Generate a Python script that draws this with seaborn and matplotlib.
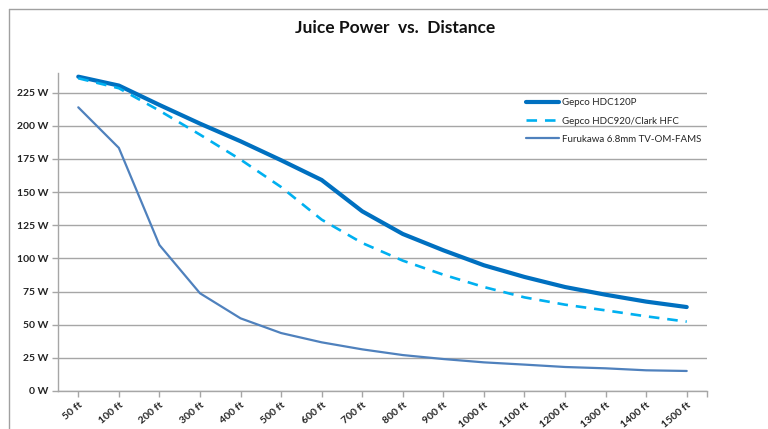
import matplotlib
matplotlib.use("Agg")
import matplotlib.pyplot as plt
import numpy as np
import pandas as pd
import seaborn as sns
from matplotlib.lines import Line2D

distances = ["50 ft", "100 ft", "200 ft", "300 ft", "400 ft", "500 ft", "600 ft", "700 ft",
             "800 ft", "900 ft", "1000 ft", "1100 ft", "1200 ft", "1300 ft", "1400 ft", "1500 ft"]
gepco_120p = [237.0, 230.3, 215.7, 201.6, 188.3, 174.0, 159.1, 135.5,
              118.4, 106.1, 94.8, 86.0, 78.4, 72.6, 67.4, 63.3]
gepco_920 = [235.8, 228.3, 211.4, 193.3, 174.5, 153.8, 129.2, 111.6,
             98.3, 87.7, 78.4, 70.6, 65.1, 60.8, 56.3, 52.3]
furukawa = [213.9, 183.3, 110.1, 73.7, 54.8, 43.7, 36.7, 31.4,
            27.1, 24.1, 21.6, 19.9, 18.1, 17.1, 15.6, 15.1]
series_names = ["Gepco HDC120P", "Gepco HDC920/Clark HFC", "Furukawa 6.8mm TV-OM-FAMS"]
y_ticks = [0, 25, 50, 75, 100, 125, 150, 175, 200, 225]

sns.set_theme(style="white")
plt.rcParams["font.family"] = ["Lato", "DejaVu Sans"]

pos = np.arange(len(distances))
df = pd.DataFrame({"pos": pos, series_names[0]: gepco_120p,
                   series_names[1]: gepco_920, series_names[2]: furukawa})

fig = plt.figure(figsize=(7.68, 4.29), dpi=100)
ax = fig.add_axes([58 / 768, 1 - 391 / 429, (707 - 58) / 768, (391 - 72.7) / 429])

styles = [
    dict(color="#0070C0", linewidth=3.0, linestyle="-"),
    dict(color="#00B0F0", linewidth=1.9, linestyle=(0, (4, 3))),
    dict(color="#4F81BD", linewidth=1.6, linestyle="-"),
]
for name, st in zip(series_names, styles):
    sns.lineplot(data=df, x="pos", y=name, ax=ax, solid_capstyle="round", **st)

ax.set_xlim(-0.5, 15.5)
ax.set_ylim(0, 240)
ax.set_yticks(y_ticks)
ax.set_yticklabels([f"{v} W" for v in y_ticks], fontsize=7.5, fontweight="bold", color="#222222")
ax.set_xticks(list(pos) + [15.5])
ax.set_xticklabels(distances + [""], rotation=40, ha="right", rotation_mode="anchor",
                   fontsize=7.5, fontweight="bold", color="#222222")
ax.set_xlabel("")
ax.set_ylabel("")
ax.yaxis.grid(True, color="#A6A6A6", linewidth=1.0)
ax.set_axisbelow(True)
for side in ["top", "right"]:
    ax.spines[side].set_visible(False)
for side in ["left", "bottom"]:
    ax.spines[side].set_color("#A6A6A6")
    ax.spines[side].set_linewidth(1.0)
ax.tick_params(axis="both", which="both", length=4, width=1, color="#A6A6A6",
               bottom=True, left=True, pad=3)

handles = [Line2D([0], [0], **st) for st in styles]
ax.legend(handles, series_names, loc="upper left", bbox_to_anchor=(0.708, 0.947),
          frameon=False, fontsize=7, handlelength=3.4, handletextpad=0.25, labelspacing=0.95)

fig.text(395 / 768, 1 - 28 / 429, "Juice Power  vs.  Distance", ha="center", va="center",
         fontsize=12.5, fontweight="bold", color="#111111")

# outer chart border (top and left edges)
fig.add_artist(Line2D([9 / 768, 1], [1 - 9 / 429, 1 - 9 / 429], color="#A0A0A0", linewidth=1.0,
                      transform=fig.transFigure))
fig.add_artist(Line2D([9 / 768, 9 / 768], [0, 1 - 9 / 429], color="#A0A0A0", linewidth=1.0,
                      transform=fig.transFigure))

fig.savefig("out.png", dpi=100)
